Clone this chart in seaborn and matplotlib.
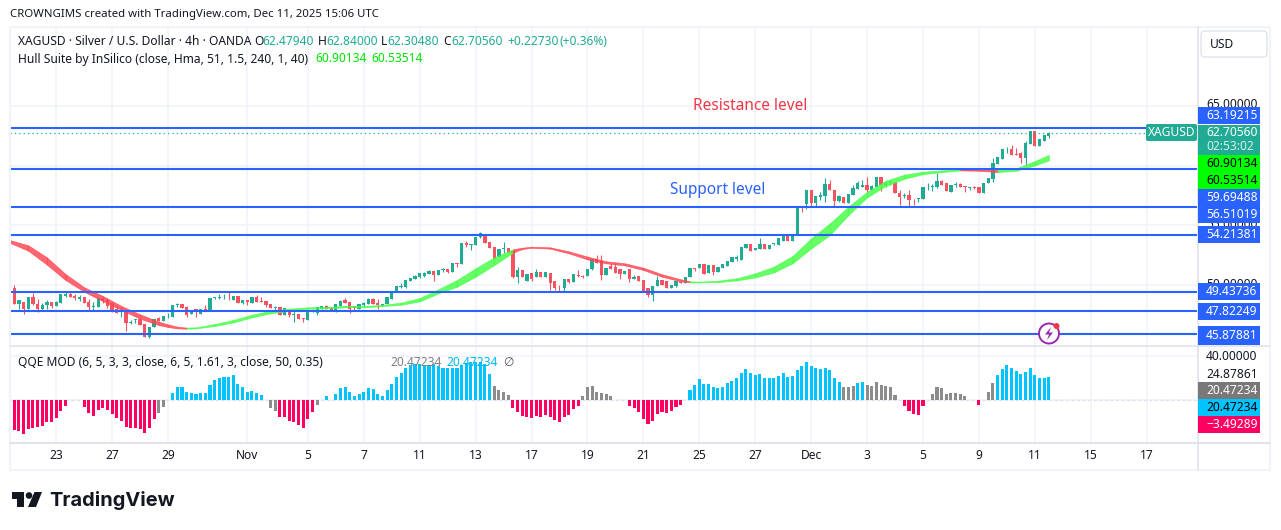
import matplotlib
matplotlib.use("Agg")
import matplotlib.pyplot as plt
import numpy as np
import pandas as pd
import seaborn as sns
from matplotlib.patches import Circle, FancyBboxPatch, Polygon, Rectangle

# ---- data ----
opens = [49.99, 49.71, 48.40, 48.59, 47.95, 48.96, 48.40, 47.95, 48.31, 48.57,
         48.23, 48.51, 49.07, 49.24, 49.07, 48.85, 48.96, 48.57, 48.18, 48.18,
         48.79, 48.73, 48.45, 47.98, 47.73, 47.76, 46.78, 47.06, 47.17, 46.72,
         45.66, 46.44, 47.20, 47.00, 47.37, 47.34, 48.29, 48.37, 48.15, 47.59,
         47.95, 47.56, 47.95, 47.89, 48.90, 48.90, 48.87, 48.93, 48.73, 49.10,
         48.45, 48.73, 48.48, 49.01, 48.65, 48.65, 48.43, 48.09, 48.17, 47.48,
         47.89, 47.48, 47.56, 47.23, 47.06, 47.70, 47.62, 47.95, 48.23, 48.06,
         47.76, 48.23, 48.73, 48.54, 48.23, 48.01, 48.34, 48.40, 48.85, 48.45,
         48.26, 48.40, 48.85, 49.52, 49.85, 49.85, 50.35, 50.47, 50.69, 50.75,
         50.91, 51.19, 50.83, 51.25, 51.33, 51.08, 51.84, 51.72, 53.54, 53.37,
         53.32, 54.04, 54.24, 53.60, 53.20, 52.31, 52.98, 53.12, 52.84, 50.63,
         51.25, 50.35, 50.97, 50.63, 51.11, 50.69, 50.97, 50.30, 49.94, 49.71,
         50.47, 50.24, 50.83, 50.77, 50.75, 51.36, 52.17, 52.03, 50.83, 51.58,
         51.47, 51.30, 50.91, 51.30, 50.47, 50.75, 50.41, 49.71, 49.15, 49.91,
         50.41, 50.33, 49.74, 49.91, 50.27, 50.19, 50.63, 51.42, 51.42, 51.72,
         50.97, 51.70, 51.11, 51.44, 51.58, 51.89, 52.14, 52.09, 53.09, 53.43,
         52.92, 52.98, 53.43, 52.98, 53.43, 53.37, 53.71, 54.21, 53.71, 54.26,
         56.50, 56.78, 57.95, 56.83, 57.39, 57.45, 58.45, 57.95, 57.06, 57.34,
         56.83, 57.53, 58.06, 58.23, 58.37, 57.95, 58.17, 59.01, 58.40, 58.51,
         58.65, 57.73, 57.45, 57.53, 57.22, 57.20, 57.17, 58.17, 58.23, 58.17,
         58.73, 58.56, 57.81, 58.34, 58.45, 58.29, 58.12, 58.20, 58.17, 57.67,
         58.51, 58.84, 60.13, 60.55, 61.36, 61.42, 60.94, 61.02, 60.61, 61.81,
         62.92, 61.64, 62.09, 62.48]
highs = [50.41, 49.99, 48.73, 48.59, 48.96, 49.35, 48.79, 48.45, 48.73, 48.57,
         48.62, 49.24, 49.43, 49.49, 49.24, 49.13, 49.01, 48.79, 48.59, 48.90,
         49.01, 48.87, 48.45, 48.31, 48.04, 47.76, 47.06, 47.11, 47.17, 46.72,
         46.50, 47.11, 47.28, 47.39, 47.62, 48.31, 48.45, 48.37, 48.23, 47.76,
         47.95, 47.95, 48.31, 48.87, 49.01, 49.24, 49.24, 49.40, 49.10, 49.10,
         48.73, 48.73, 49.01, 49.13, 48.96, 48.65, 48.43, 48.23, 48.17, 48.04,
         47.89, 47.89, 47.56, 47.23, 47.84, 47.95, 48.12, 48.23, 48.29, 48.12,
         48.40, 48.71, 48.87, 48.54, 48.23, 48.37, 48.59, 48.90, 48.90, 48.79,
         48.40, 48.96, 49.52, 49.93, 50.13, 50.38, 50.60, 50.85, 51.00, 51.10,
         51.25, 51.19, 51.25, 51.44, 51.33, 51.86, 51.84, 53.54, 53.71, 53.44,
         54.04, 54.46, 54.24, 53.60, 53.20, 53.04, 53.60, 53.12, 52.84, 51.47,
         51.25, 50.91, 50.97, 51.30, 51.11, 51.05, 50.97, 50.30, 49.99, 50.52,
         50.47, 50.91, 51.25, 50.86, 51.30, 52.20, 52.50, 52.50, 51.44, 51.86,
         51.80, 51.30, 51.16, 51.30, 50.83, 50.75, 50.41, 49.71, 49.91, 50.75,
         50.41, 50.33, 49.99, 50.33, 50.27, 50.63, 51.44, 51.42, 51.78, 51.72,
         51.70, 51.70, 51.47, 51.75, 52.03, 52.31, 52.48, 53.15, 53.40, 53.43,
         53.07, 53.90, 53.43, 53.37, 53.48, 53.96, 54.18, 54.21, 54.21, 56.50,
         56.61, 57.95, 57.95, 57.45, 57.81, 58.93, 58.79, 57.95, 57.53, 57.34,
         57.61, 58.37, 58.73, 58.79, 59.01, 58.37, 59.01, 59.01, 58.73, 58.79,
         58.65, 57.95, 57.67, 57.95, 57.22, 57.25, 58.17, 58.51, 58.45, 59.35,
         58.79, 58.56, 58.37, 58.59, 58.56, 58.29, 58.20, 58.29, 58.17, 58.56,
         58.93, 60.61, 60.74, 61.42, 61.58, 61.70, 61.44, 61.16, 62.09, 62.90,
         62.92, 62.20, 62.60, 62.84]
lows = [49.66, 48.40, 47.95, 47.56, 47.95, 48.31, 47.76, 47.90, 47.95, 48.04,
        48.23, 48.51, 48.96, 48.96, 48.73, 48.65, 48.51, 47.90, 47.90, 48.18,
        48.45, 48.04, 47.76, 47.67, 47.34, 46.16, 46.72, 46.78, 46.64, 45.66,
        45.55, 46.44, 46.97, 47.00, 47.20, 47.34, 48.12, 48.09, 47.34, 47.59,
        47.34, 47.56, 47.84, 47.89, 48.85, 48.85, 48.79, 48.73, 48.73, 48.45,
        48.40, 48.31, 48.48, 48.59, 48.59, 48.17, 48.09, 47.84, 47.48, 47.48,
        47.34, 46.92, 47.17, 46.92, 47.06, 47.70, 47.50, 47.95, 47.95, 47.84,
        47.76, 48.23, 48.51, 47.67, 47.90, 48.01, 48.17, 48.40, 48.40, 47.95,
        48.26, 48.40, 48.85, 49.40, 49.71, 49.71, 50.35, 50.47, 50.55, 50.65,
        50.91, 50.33, 50.83, 51.11, 50.97, 51.08, 51.52, 51.72, 53.20, 52.92,
        53.32, 53.90, 53.54, 53.06, 52.14, 52.31, 52.64, 52.64, 50.55, 50.13,
        50.63, 50.35, 50.35, 50.63, 50.63, 50.69, 49.57, 49.57, 49.52, 49.43,
        50.19, 50.24, 50.63, 50.58, 50.75, 51.25, 51.80, 50.41, 50.83, 51.36,
        51.03, 50.47, 50.91, 50.27, 50.47, 50.30, 49.49, 49.01, 48.65, 49.91,
        49.99, 49.74, 49.74, 49.80, 50.13, 50.19, 50.63, 51.19, 51.42, 50.91,
        50.97, 50.83, 51.11, 51.44, 51.58, 51.89, 52.03, 52.09, 53.09, 52.81,
        52.92, 52.98, 52.98, 52.98, 53.37, 53.37, 53.71, 53.71, 53.71, 54.26,
        56.13, 56.33, 56.55, 56.55, 57.11, 56.97, 57.95, 56.55, 56.97, 56.83,
        56.83, 57.53, 58.06, 58.17, 57.67, 57.95, 58.17, 57.89, 58.17, 58.37,
        57.67, 56.69, 57.25, 56.55, 56.69, 56.97, 57.17, 57.95, 57.89, 58.09,
        58.34, 57.84, 57.81, 58.23, 58.17, 57.81, 57.95, 58.00, 57.73, 57.67,
        58.51, 58.65, 60.13, 60.55, 61.02, 60.91, 60.86, 60.24, 60.05, 61.81,
        61.64, 61.64, 62.09, 62.30]
closes = [49.66, 48.40, 48.73, 47.95, 48.96, 48.40, 47.95, 48.31, 48.59, 48.23,
          48.59, 49.24, 49.24, 48.96, 48.90, 49.01, 48.51, 48.12, 48.23, 48.90,
          48.62, 48.23, 47.89, 47.67, 47.90, 46.78, 46.92, 47.11, 46.64, 45.66,
          46.44, 47.11, 46.97, 47.39, 47.42, 48.31, 48.37, 48.09, 47.48, 47.76,
          47.89, 47.95, 47.89, 48.87, 48.96, 48.96, 48.93, 48.87, 49.10, 48.45,
          48.73, 48.57, 48.99, 48.59, 48.59, 48.29, 48.09, 48.15, 47.48, 48.04,
          47.48, 47.50, 47.17, 47.14, 47.84, 47.89, 48.12, 48.23, 47.95, 47.84,
          48.40, 48.65, 48.51, 47.95, 48.04, 48.37, 48.48, 48.85, 48.40, 48.31,
          48.37, 48.96, 49.52, 49.93, 49.91, 50.38, 50.58, 50.77, 50.97, 51.03,
          51.19, 50.83, 51.25, 51.30, 51.05, 51.86, 51.72, 53.54, 53.32, 53.43,
          54.04, 54.32, 53.54, 53.06, 52.14, 53.04, 53.09, 52.64, 50.63, 51.25,
          50.63, 50.91, 50.52, 51.11, 50.63, 51.05, 50.19, 49.77, 49.88, 50.52,
          50.21, 50.91, 50.77, 50.69, 51.30, 52.20, 51.80, 50.83, 51.44, 51.36,
          51.03, 50.89, 51.16, 50.47, 50.69, 50.30, 49.49, 49.13, 49.91, 50.41,
          49.99, 49.74, 49.99, 50.33, 50.13, 50.63, 51.42, 51.30, 51.78, 50.91,
          51.70, 51.11, 51.47, 51.75, 52.03, 52.31, 52.37, 53.15, 53.40, 52.81,
          53.07, 53.43, 52.98, 53.37, 53.48, 53.96, 54.18, 53.71, 54.21, 56.50,
          56.41, 57.95, 56.89, 57.45, 57.53, 58.45, 57.95, 57.06, 57.45, 56.83,
          57.61, 58.09, 58.57, 58.37, 57.95, 58.29, 59.01, 58.37, 58.57, 58.62,
          57.67, 57.39, 57.53, 57.11, 57.17, 57.25, 58.17, 58.23, 58.29, 58.73,
          58.34, 57.84, 58.37, 58.45, 58.17, 58.17, 58.17, 58.14, 57.73, 58.56,
          58.93, 60.19, 60.74, 61.42, 61.42, 60.91, 60.86, 60.66, 61.92, 62.90,
          61.64, 62.20, 62.60, 62.71]

hull_bars = [0, 4, 8, 12, 16, 20, 24, 28, 32, 34, 36, 38, 40, 44, 48, 52, 56, 60, 64, 68,
             72, 76, 80, 84, 88, 92, 96, 100, 104, 108, 110, 112, 116, 120, 124, 128, 132,
             136, 140, 144, 146, 148, 152, 156, 160, 164, 168, 172, 176, 180, 184, 188,
             192, 196, 200, 204, 208, 212, 216, 220, 223]
hull_top = [53.76, 53.32, 52.31, 50.91, 49.80, 49.07, 48.23, 47.53, 46.92, 46.69, 46.50,
            46.42, 46.44, 46.72, 47.06, 47.50, 47.84, 48.01, 48.12, 48.15, 48.23, 48.23,
            48.32, 48.51, 48.90, 49.63, 50.41, 51.39, 52.31, 52.98, 53.12, 53.20, 53.15,
            52.81, 52.37, 51.98, 51.81, 51.44, 50.89, 50.47, 50.30, 50.27, 50.35, 50.55,
            50.97, 51.53, 52.42, 53.90, 55.16, 56.56, 57.81, 58.73, 59.24, 59.49, 59.60,
            59.68, 59.68, 59.63, 59.77, 60.38, 60.90]
hull_bot = [53.54, 52.87, 51.70, 50.41, 49.43, 48.65, 47.90, 47.17, 46.64, 46.47, 46.36,
            46.33, 46.36, 46.56, 46.86, 47.28, 47.62, 47.84, 48.01, 48.04, 48.12, 48.12,
            48.23, 48.34, 48.62, 49.29, 49.85, 50.69, 51.67, 52.70, 53.01, 53.12, 53.04,
            52.65, 52.14, 51.81, 51.64, 51.25, 50.69, 50.30, 50.21, 50.21, 50.24, 50.38,
            50.63, 51.05, 51.81, 53.06, 54.18, 55.86, 57.34, 58.29, 58.90, 59.29, 59.46,
            59.60, 59.57, 59.46, 59.57, 60.02, 60.44]
# colour of the segment that ends at each sample, 1 = rising (green)
hull_rising = [0] * 12 + [1] * 18 + [0] * 11 + [1] * 15 + [0] * 2 + [1] * 3

qqe_values = [-20.6, -27.3, -28.2, -30.9, -26.4, -25.8, -24.8, -23.6, -20.3, -19.7,
              -16.7, -10.0, -5.5, 0, 0, 0, -6.4, -11.8, -14.5, -9.1,
              -7.6, -9.1, -12.7, -16.7, -19.1, -24.2, -25.8, -25.8, -26.4, -30.0,
              -25.2, -17.3, -12.1, -6.4, 0, 6.7, 11.5, 12.1, 7.6, 6.7,
              5.8, 6.4, 6.7, 13.6, 18.2, 20.3, 20.9, 20.9, 22.7, 14.5,
              12.1, 7.0, 8.2, 6.1, 4.5, 0, -7.0, -10.0, -15.2, -15.8,
              -19.1, -19.7, -22.7, -25.2, -17.3, -10.6, -4.5, 0, 3.6, 0,
              5.5, 10.9, 11.8, 7.3, 3.6, 5.2, 7.3, 10.9, 9.7, 5.5,
              3.6, 9.1, 14.5, 20.6, 24.5, 28.8, 31.8, 32.7, 32.7, 31.2,
              31.8, 32.4, 31.2, 29.4, 28.8, 29.4, 28.8, 31.8, 33.3, 34.2,
              34.8, 34.2, 32.4, 23.6, 13.0, 9.1, 7.3, 4.5, -7.3, -10.6,
              -14.5, -15.2, -16.1, -14.5, -15.5, -13.6, -15.2, -18.2, -20.0, -15.5,
              -13.6, -8.2, -5.8, 3.6, 11.8, 12.7, 7.3, 6.4, 5.5, 3.6,
              0, 0, 0, -5.5, -7.3, -10.9, -17.3, -21.8, -19.1, -12.7,
              -10.9, -11.8, -10.0, -6.4, -4.5, 0, 9.1, 13.6, 19.1, 14.5,
              14.5, 11.8, 10.9, 11.8, 15.5, 17.3, 20.0, 24.5, 28.2, 24.5,
              22.7, 23.6, 20.0, 20.0, 20.0, 21.8, 24.5, 20.9, 21.8, 27.3,
              30.9, 34.5, 30.9, 29.1, 28.2, 29.1, 27.3, 20.0, 16.4, 11.8,
              11.8, 12.7, 15.5, 16.4, 13.6, 12.7, 16.4, 13.6, 12.7, 11.8,
              4.5, 0, -5.5, -10.0, -12.7, -13.6, -5.5, 0, 5.5, 11.8,
              10.9, 5.5, 6.4, 6.4, 5.5, 3.6, 0, 0, -4.5, 0,
              7.3, 15.5, 22.7, 28.2, 31.8, 29.1, 26.4, 23.6, 25.5, 29.1,
              22.7, 20.0, 20.0, 20.47]
qqe_state = (["pink"] * 32 + ["gray"] * 3 + ["blue"] * 21 + ["gray"] * 2 + ["pink"] * 8
             + ["gray"] * 2 + ["blue"] * 36 + ["gray"] * 4 + ["pink"] * 15 + ["gray"] * 10
             + ["pink"] * 13 + ["blue"] * 33 + ["gray"] * 3 + ["blue"] * 2 + ["gray"] * 8
             + ["pink"] * 6 + ["gray"] * 10 + ["pink"] * 2 + ["gray"] * 2 + ["blue"] * 12)

level_prices = [63.19215, 59.69488, 56.51019, 54.21381, 49.43736, 47.82249, 45.87881]
last_price = 62.7056
price_ticks = [50, 55, 60, 65]
date_bars = [10, 22, 34, 51, 64, 76, 88, 100, 112, 124, 136, 148, 160, 172, 184, 196, 208, 220, 232, 244]
date_labels = ["23", "27", "29", "Nov", "5", "7", "11", "13", "17", "19", "21", "25", "27",
               "Dec", "3", "5", "9", "11", "15", "17"]

# ---- colours ----
UP = "#22ab94"
DOWN = "#f7525f"
LEVEL = "#2962ff"
GRID = "#f0f3fa"
SEP = "#e0e3eb"
qqe_palette = {"pink": "#ff0062", "gray": "#8c8c8c", "blue": "#00c3ff"}

sns.set_theme(style="white")
plt.rcParams["font.family"] = ["Noto Sans", "DejaVu Sans"]

W, H = 1281, 530
fig = plt.figure(figsize=(W / 100, H / 100), dpi=100, facecolor="white")


def pane(left, top, right, bottom):
    return fig.add_axes([left / W, 1 - bottom / H, (right - left) / W, (bottom - top) / H])


ax = pane(10, 27, 1197, 346)
ax2 = pane(10, 346, 1197, 442)
ov = fig.add_axes([0, 0, 1, 1], zorder=10)
ov.set_xlim(0, W)
ov.set_ylim(H, 0)
ov.axis("off")
ov.patch.set_alpha(0)

xlim = (0.086, 254.8)
for a in (ax, ax2):
    a.set_xlim(*xlim)
    a.set_facecolor("white")
    for s in a.spines.values():
        s.set_visible(False)
    a.set_xticks(date_bars)
    a.tick_params(length=0, labelbottom=False, labelleft=False)
    a.grid(True, axis="x", color=GRID, lw=1.2, zorder=0)
ax.set_ylim(44.88, 71.62)
ax.set_yticks(price_ticks)
ax.grid(True, axis="y", color=GRID, lw=1.2, zorder=0)

# candles
bars = np.arange(len(closes))
df = pd.DataFrame({"bar": bars, "open": opens, "high": highs, "low": lows, "close": closes})
df["color"] = np.where(df["close"] >= df["open"], UP, DOWN)
ax.vlines(df["bar"], df["low"], df["high"], colors=df["color"], lw=0.8, zorder=2)
ax.bar(df["bar"], (df["close"] - df["open"]).abs().clip(lower=0.05), bottom=df[["open", "close"]].min(axis=1),
       width=0.7, color=df["color"], linewidth=0, zorder=3)

# hull band, one piece per colour run
for k in range(1, len(hull_bars)):
    col = "#44ff44" if hull_rising[k] else "#ff4550"
    ax.fill_between(hull_bars[k - 1:k + 1], hull_bot[k - 1:k + 1], hull_top[k - 1:k + 1],
                    color=col, alpha=0.82, linewidth=0.5, zorder=4)

# levels and last price
lv = pd.DataFrame({"x": list(xlim) * len(level_prices),
                   "y": np.repeat(level_prices, 2),
                   "level": np.repeat(level_prices, 2)})
sns.lineplot(data=lv, x="x", y="y", units="level", estimator=None, color=LEVEL, lw=1.5, ax=ax, zorder=5, legend=False)
ax.plot([xlim[0], (1146 - 9.6) / 4.66], [last_price, last_price], color=UP, lw=0.9, ls=(0, (1, 2.5)), zorder=5)
ax.set_xlim(*xlim)
ax.set_xlabel("")
ax.set_ylabel("")

# QQE pane
qq = pd.DataFrame({"bar": bars, "value": qqe_values, "state": qqe_state})
sns.barplot(data=qq, x="bar", y="value", hue="state", palette=qqe_palette, native_scale=True, dodge=False,
            width=0.66, saturation=1, linewidth=0, legend=False, ax=ax2, zorder=3)
ax2.set_xlim(*xlim)
ax2.set_ylim(-38.2, 49.1)
ax2.set_yticks([0, 40])
ax2.grid(True, axis="y", color=GRID, lw=1.2, zorder=0)
ax2.axhline(0, color=SEP, lw=1, ls=(0, (2, 2)), zorder=1)
ax2.set_xlabel("")
ax2.set_ylabel("")


# ---- overlay text, boxes, frame ----
def label(x, y, s, color="#131722", size=8.65, **kw):
    ov.text(x, y, s, color=color, fontsize=size, va="center", ha=kw.pop("ha", "left"), **kw)


# frame and separators
ov.add_patch(Rectangle((9.5, 27), 1260, 443, fc="none", ec=GRID, lw=1.5))
ov.plot([10, 1270], [346, 346], color=SEP, lw=1.2)
ov.plot([10, 1270], [442.5, 442.5], color=SEP, lw=1.5)
ov.plot([1197.5, 1197.5], [27, 470], color=SEP, lw=1.2)

label(10, 15, "CROWNGIMS created with TradingView.com, Dec 11, 2025 15:06 UTC", size=8.2)
label(18, 41.5, "XAGUSD · Silver / U.S. Dollar · 4h · OANDA")
for x, key, val in [(254, "O", "62.47940"), (318, "H", "62.84000"), (381, "L", "62.30480"), (443, "C", "62.70560")]:
    label(x, 41.5, key)
    label(x + (8 if key != "L" else 6.5), 41.5, val, color=UP)
label(507, 41.5, "+0.22730", color=UP)
label(560, 41.5, "(+0.36%)", color=UP)
label(18, 59, "Hull Suite by InSilico (close, Hma, 51, 1.5, 240, 1, 40)")
label(315, 59, "60.90134", color="#00e600")
label(371, 59, "60.53514", color="#00e600")
label(18, 362, "QQE MOD (6, 5, 3, 3, close, 6, 5, 1.61, 3, close, 50, 0.35)")
label(390, 362, "20.47234", color="#808080")
label(446, 362, "20.47234", color="#00b8f0")
label(503, 362, "∅", color="#555555")

label(693, 105.5, "Resistance level", color="#f23645", size=11.1)
label(670, 190.5, "Support level", color=LEVEL, size=11.1)

# USD box
ov.add_patch(FancyBboxPatch((1201, 31), 66, 26, boxstyle="round,pad=0,rounding_size=4", fc="white", ec=SEP, lw=1))
label(1210, 44, "USD")

# price tags
label(1206, 105, "65.00000")
label(1206, 284, "50.00000")
label(1206, 224.5, "55.00000")
tags = [(107, 124, LEVEL, "63.19215", "white"), (155, 172, "#00ff00", "60.90134", "black"),
        (172, 189, "#00ff00", "60.53514", "black"), (189, 206, LEVEL, "59.69488", "white"),
        (206, 223, LEVEL, "56.51019", "white"), (226, 243, LEVEL, "54.21381", "white"),
        (283, 300, LEVEL, "49.43736", "white"), (303, 319.5, LEVEL, "47.82249", "white"),
        (326, 345, LEVEL, "45.87881", "white"), (382, 399, "#787878", "20.47234", "white"),
        (399, 416, "#00c3ff", "20.47234", "black"), (416, 433, "#ff0062", "−3.49289", "white")]
for top, bot, fc, txt, tc in tags:
    ov.add_patch(Rectangle((1198, top), 62, bot - top, fc=fc, ec="none", zorder=3))
    label(1206, (top + bot) / 2, txt, color=tc, zorder=4)
ov.add_patch(Rectangle((1198, 125), 62, 30, fc=UP, ec="none", zorder=3))
label(1206, 132.5, "62.70560", color="white", zorder=4)
label(1206, 146.5, "02:53:02", color="#d5efe9", zorder=4)
ov.add_patch(FancyBboxPatch((1146, 124), 51, 17, boxstyle="round,pad=0,rounding_size=2", fc=UP, ec="none", zorder=3))
label(1171.5, 132.5, "XAGUSD", color="white", ha="center", zorder=4)
label(1206, 356, "40.00000")
label(1206, 374, "24.87861")

# date axis
for b, t in zip(date_bars, date_labels):
    x = 9.6 + 4.66 * b
    bold = t in ("Nov", "Dec")
    label(x, 455.5, t, ha="center", fontweight="semibold" if bold else "normal")

# event icon
ov.add_patch(Circle((1049, 333.5), 10, fc="white", ec="#9c27b0", lw=1.4, zorder=3))
ov.add_patch(Polygon([(1051, 327), (1045, 334.5), (1049, 334.5), (1047, 340), (1053, 332.5), (1049, 332.5)],
                     fc="#9c27b0", ec="none", zorder=4))
ov.add_patch(Circle((1056.5, 326), 3, fc="#f23645", ec="none", zorder=5))

# logo
ov.add_patch(Polygon([(12, 492), (24, 492), (24, 507), (17, 507), (17, 499), (12, 499)], fc="#131722", ec="none"))
ov.add_patch(Circle((29, 495.5), 3.3, fc="#131722", ec="none"))
ov.add_patch(Polygon([(34.5, 492), (42, 492), (36, 507), (28, 507)], fc="#131722", ec="none"))
label(49, 500, "TradingView", size=14.4, fontweight="bold", family=["Inter", "DejaVu Sans"])

fig.savefig("out.png", dpi=100)
